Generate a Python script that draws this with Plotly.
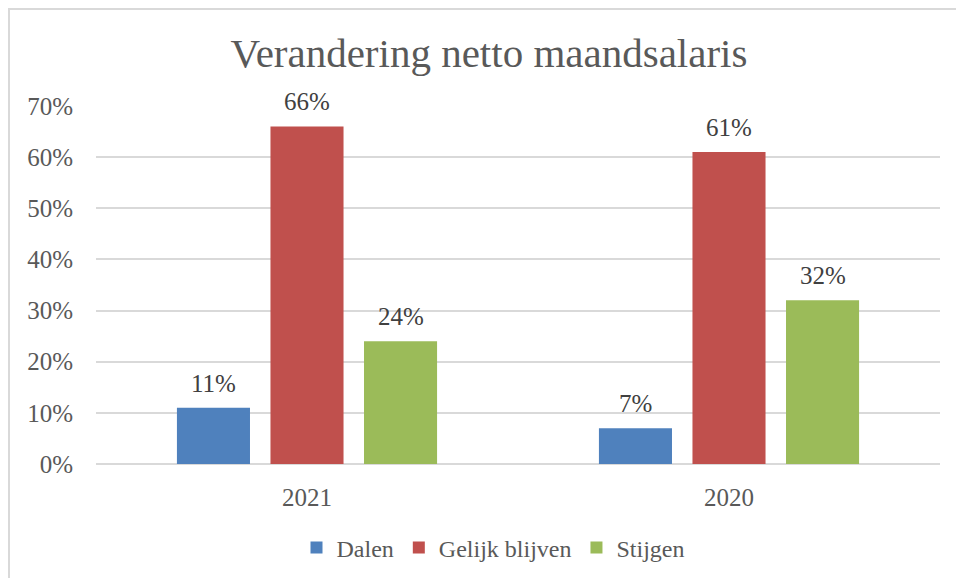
import plotly.graph_objects as go

categories = ["2021", "2020"]
series_names = ["Dalen", "Gelijk blijven", "Stijgen"]
dalen = [0.11, 0.07]
gelijk = [0.66, 0.61]
stijgen = [0.24, 0.32]
colors = ["#4F81BD", "#C0504D", "#9BBB59"]
tick_vals = [0, 0.1, 0.2, 0.3, 0.4, 0.5, 0.6, 0.7]
tick_text = ["0%", "10%", "20%", "30%", "40%", "50%", "60%", "70%"]

FONT = "Liberation Serif"
TXT = "#595959"
BARGAP = 0.335

fig = go.Figure()
all_series = [dalen, gelijk, stijgen]
for name, vals, col in zip(series_names, all_series, colors):
    fig.add_trace(go.Bar(
        name=name, x=categories, y=vals, marker_color=col,
        marker_line_width=0, hoverinfo="skip",
    ))

# data labels placed above each grouped bar
slot = (1 - BARGAP) / len(all_series)
annotations = []
for k, vals in enumerate(all_series):
    for i, v in enumerate(vals):
        annotations.append(dict(
            x=i + (k - (len(all_series) - 1) / 2) * slot, y=v, xref="x", yref="y",
            text=f"{round(v*100)}%", showarrow=False, yanchor="bottom", yshift=9,
            font=dict(family=FONT, size=25, color="#404040"),
        ))

W, H = 956, 578
L, R, T, B = 96, 16, 106, 114
pw, ph = W - L - R, H - T - B

def px_x(p):
    return (p - L) / pw

def px_y(p):
    return (H - B - p) / ph

fig.update_layout(
    width=W, height=H,
    margin=dict(l=L, r=R, t=T, b=B, autoexpand=False),
    paper_bgcolor="white", plot_bgcolor="white",
    barmode="group", bargap=BARGAP, bargroupgap=0.219,
    title=dict(text="Verandering netto maandsalaris", x=489 / W, xanchor="center",
               y=1 - 53 / H, yanchor="middle",
               font=dict(family=FONT, size=41, color=TXT)),
    font=dict(family=FONT, color=TXT),
    legend=dict(orientation="h", x=px_x(493), xanchor="center", y=px_y(548), yanchor="middle",
                font=dict(family=FONT, size=24, color=TXT), traceorder="normal",
                itemwidth=30),
    showlegend=True,
    annotations=annotations,
    xaxis=dict(showgrid=False, showline=False, ticks="", ticklabelstandoff=16,
               tickfont=dict(family=FONT, size=25, color=TXT)),
    yaxis=dict(range=[0, 0.7], tickvals=tick_vals, ticktext=tick_text,
               showgrid=True, gridcolor="#D9D9D9", gridwidth=1.5,
               zeroline=True, zerolinecolor="#D9D9D9", zerolinewidth=1.5,
               showline=False, ticks="", ticklabelstandoff=22,
               tickfont=dict(family=FONT, size=25, color=TXT)),
    shapes=[dict(type="rect", xref="paper", yref="paper",
                 x0=px_x(9), x1=px_x(1000), y0=px_y(620), y1=px_y(9),
                 line=dict(color="#D9D9D9", width=2), fillcolor="rgba(0,0,0,0)", layer="below")],
)

fig.write_html("out.html", config={"displayModeBar": False},
               post_script="document.body.style.margin='0';")
